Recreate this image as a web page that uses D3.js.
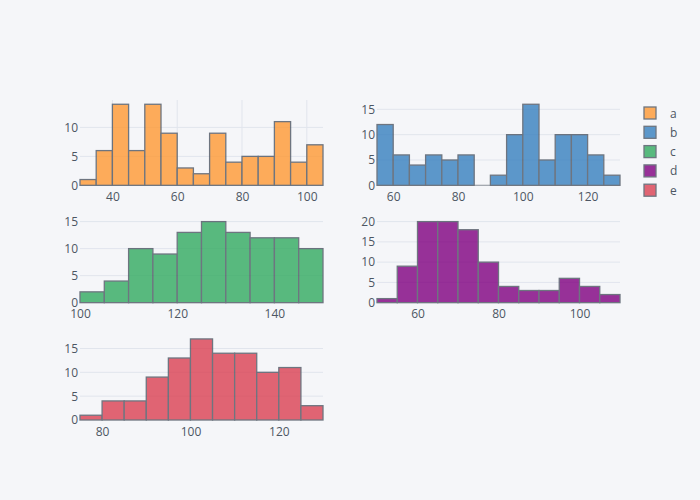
<!DOCTYPE html>
<html>
<head>
<meta charset="utf-8">
<script src="https://cdn.jsdelivr.net/npm/d3@7"></script>
<style>
  html, body { margin: 0; padding: 0; background: #F5F6F9; }
  svg { display: block; }
</style>
</head>
<body>
<svg id="chart" width="700" height="500"></svg>
<script>
const seriesNames = ["a", "b", "c", "d", "e"];
const seriesColors = ["rgb(255,153,51)", "rgb(55,128,191)", "rgb(50,171,96)", "rgb(128,0,128)", "rgb(219,64,82)"];
const binSize = 5;
const countsA = [1, 6, 14, 6, 14, 9, 3, 2, 9, 4, 5, 5, 11, 4, 7];
const startA = 30;
const countsB = [12, 6, 4, 6, 5, 6, 0, 2, 10, 16, 5, 10, 10, 6, 2];
const startB = 55;
const countsC = [2, 4, 10, 9, 13, 15, 13, 12, 12, 10];
const startC = 100;
const countsD = [1, 9, 20, 20, 18, 10, 4, 3, 3, 6, 4, 2];
const startD = 50;
const countsE = [1, 4, 4, 9, 13, 17, 14, 14, 10, 11, 3];
const startE = 75;
const xTicksA = [40, 60, 80, 100];
const xTicksB = [60, 80, 100, 120];
const xTicksC = [100, 120, 140];
const xTicksD = [60, 80, 100];
const xTicksE = [80, 100, 120];
const yTicksA = [0, 5, 10];
const yTicksB = [0, 5, 10, 15];
const yTicksC = [0, 5, 10, 15];
const yTicksD = [0, 5, 10, 15, 20];
const yTicksE = [0, 5, 10, 15];

const panels = [
  { counts: countsA, start: startA, xt: xTicksA, yt: yTicksA, row: 0, col: 0, xgrid: true },
  { counts: countsB, start: startB, xt: xTicksB, yt: yTicksB, row: 0, col: 1, xgrid: false },
  { counts: countsC, start: startC, xt: xTicksC, yt: yTicksC, row: 1, col: 0, xgrid: false },
  { counts: countsD, start: startD, xt: xTicksD, yt: yTicksD, row: 1, col: 1, xgrid: false },
  { counts: countsE, start: startE, xt: xTicksE, yt: yTicksE, row: 2, col: 0, xgrid: false }
];

const svg = d3.select("#chart");
const W = 700, H = 500;
const mL = 80, mR = 80, mT = 100, mB = 80;
const plotW = W - mL - mR, plotH = H - mT - mB;
const hGap = 0.1 * plotW, vGap = 0.1 * plotH;
const colW = (plotW - hGap) / 2;
const rowH = (plotH - 2 * vGap) / 3;
const textColor = "#4D5663";
const gridColor = "#E1E5ED";
const font = "'Open Sans', 'Noto Sans', sans-serif";

panels.forEach((p, i) => {
  const x0 = mL + p.col * (colW + hGap);
  const y0 = mT + p.row * (rowH + vGap);
  const n = p.counts.length;
  const bins = p.counts.map((c, j) => ({ lo: p.start + j * binSize, hi: p.start + (j + 1) * binSize, c }));
  const x = d3.scaleLinear().domain([p.start, p.start + n * binSize]).range([x0, x0 + colW]);
  const maxC = d3.max(p.counts);
  const y = d3.scaleLinear().domain([0, maxC * 20 / 19]).range([y0 + rowH, y0]);
  const g = svg.append("g");

  // grid lines
  g.selectAll(".yg").data(p.yt.filter(t => t > 0)).enter().append("line")
    .attr("x1", x0).attr("x2", x0 + colW)
    .attr("y1", d => y(d)).attr("y2", d => y(d))
    .attr("stroke", gridColor).attr("stroke-width", 1);
  if (p.xgrid) {
    g.selectAll(".xg").data(p.xt).enter().append("line")
      .attr("x1", d => x(d)).attr("x2", d => x(d))
      .attr("y1", y0).attr("y2", y0 + rowH)
      .attr("stroke", gridColor).attr("stroke-width", 1);
  }

  // bars
  const bg = g.append("g").attr("opacity", 0.8);
  bg.selectAll("rect").data(bins.filter(d => d.c > 0)).enter().append("rect")
    .attr("x", d => x(d.lo))
    .attr("width", d => x(d.hi) - x(d.lo))
    .attr("y", d => y(d.c))
    .attr("height", d => y(0) - y(d.c))
    .attr("fill", seriesColors[i])
    .attr("stroke", "#4D5663")
    .attr("stroke-width", 1.3);
  bg.selectAll("line.zero").data(bins.filter(d => d.c === 0)).enter().append("line")
    .attr("x1", d => x(d.lo)).attr("x2", d => x(d.hi))
    .attr("y1", y(0)).attr("y2", y(0))
    .attr("stroke", "#4D5663").attr("stroke-width", 1.3).attr("stroke-opacity", 0.6);

  // axes
  const xAxis = d3.axisBottom(x).tickValues(p.xt).tickSize(0).tickPadding(7);
  const gx = g.append("g").attr("transform", `translate(0,${y0 + rowH})`).call(xAxis);
  gx.select(".domain").remove();
  gx.selectAll("text").attr("fill", textColor).attr("font-size", 12).attr("font-family", font);

  const yAxis = d3.axisLeft(y).tickValues(p.yt).tickSize(0).tickPadding(2);
  const gy = g.append("g").attr("transform", `translate(${x0},0)`).call(yAxis);
  gy.select(".domain").remove();
  gy.selectAll("text").attr("fill", textColor).attr("font-size", 12).attr("font-family", font);
});

// legend
const lg = svg.append("g");
seriesNames.forEach((nm, i) => {
  const cy = 113 + i * 19.3;
  lg.append("rect").attr("x", 644).attr("y", cy - 6).attr("width", 12).attr("height", 12)
    .attr("fill", seriesColors[i]).attr("opacity", 0.8)
    .attr("stroke", "#4D5663").attr("stroke-width", 1.3);
  lg.append("text").attr("x", 670).attr("y", cy + 4.5).text(nm)
    .attr("fill", textColor).attr("font-size", 12).attr("font-family", font);
});
</script>
</body>
</html>
